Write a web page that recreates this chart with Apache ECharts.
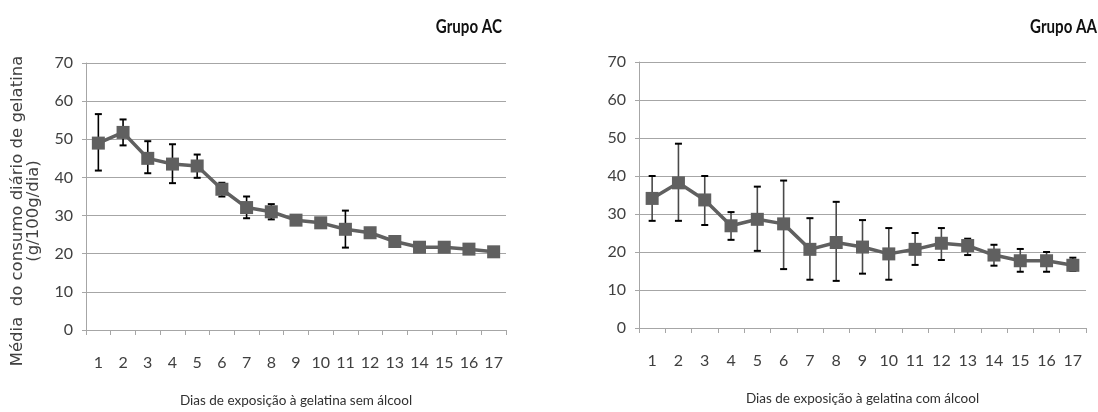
<!DOCTYPE html>
<html>
<head>
<meta charset="utf-8">
<script src="https://cdn.jsdelivr.net/npm/echarts@6/dist/echarts.min.js"></script>
<style>
html,body{margin:0;padding:0;background:#fff;}
#chart{width:1098px;height:412px;}
</style>
</head>
<body>
<div id="chart"></div>
<script>
const days = ['1','2','3','4','5','6','7','8','9','10','11','12','13','14','15','16','17'];
const yTicks = [0,10,20,30,40,50,60,70];

const acMean = [49, 51.8, 45, 43.5, 43, 36.9, 32.1, 31, 28.8, 28.1, 26.4, 25.5, 23.2, 21.7, 21.7, 21.2, 20.5];
const acLow  = [41.8, 48.4, 41.1, 38.5, 39.9, 35.0, 29.3, 29.0, 28.2, 27.5, 21.6, 24.9, 22.6, 21.1, 21.1, 20.6, 19.9];
const acHigh = [56.6, 55.2, 49.5, 48.7, 46.0, 38.6, 35.0, 33.0, 29.4, 28.7, 31.3, 26.1, 23.8, 22.3, 22.3, 21.8, 21.1];

const aaMean = [34.1, 38.2, 33.7, 26.9, 28.6, 27.4, 20.7, 22.5, 21.3, 19.5, 20.7, 22.3, 21.7, 19.2, 17.7, 17.7, 16.5];
const aaLow  = [28.2, 28.2, 27.1, 23.2, 20.3, 15.5, 12.7, 12.4, 14.3, 12.7, 16.6, 17.9, 19.2, 16.4, 14.8, 14.8, 15.0];
const aaHigh = [40.0, 48.5, 40.0, 30.5, 37.2, 38.8, 28.9, 33.2, 28.4, 26.3, 25.0, 26.3, 23.5, 21.9, 20.8, 20.0, 18.5];

const titles = ['Grupo AC', 'Grupo AA'];
const xNames = ['Dias de exposição à gelatina sem álcool', 'Dias de exposição à gelatina com álcool'];
const yName1 = 'Média  do consumo diário de gelatina';
const yName2 = '(g/100g/dia)';

const FONT = 'Lato, "Open Sans", sans-serif';
const GRIDC = '#a6a6a6';

function errData(lo, hi){ return days.map((d,i)=>[i, lo[i], hi[i]]); }

function errorRender(stemColor){
  return function(params, api){
    const x = api.value(0), lo = api.value(1), hi = api.value(2);
    const pH = api.coord([x, hi]);
    const pL = api.coord([x, lo]);
    const w = 3.5;
    return {type:'group', children:[
      {type:'line', shape:{x1:pH[0],y1:pH[1],x2:pL[0],y2:pL[1]}, style:{stroke:stemColor,lineWidth:1.6}},
      {type:'line', shape:{x1:pH[0]-w,y1:pH[1],x2:pH[0]+w,y2:pH[1]}, style:{stroke:'#000',lineWidth:2}},
      {type:'line', shape:{x1:pL[0]-w,y1:pL[1],x2:pL[0]+w,y2:pL[1]}, style:{stroke:'#000',lineWidth:2}}
    ]};
  };
}

function xAxis(gi){
  return {
    type:'category', gridIndex:gi, data:days, boundaryGap:true,
    axisLine:{lineStyle:{color:GRIDC,width:1}},
    axisTick:{show:true,length:5,interval:0,alignWithLabel:false,lineStyle:{color:GRIDC}},
    axisLabel:{interval:0,margin:25,fontSize:16,color:'#404040',fontFamily:FONT},
    name:xNames[gi], nameLocation:'middle', nameGap:64,
    nameTextStyle:{fontSize:13.5,color:'#303030',fontFamily:FONT}
  };
}
function yAxis(gi){
  return {
    type:'value', gridIndex:gi, min:0, max:70, interval:10,
    axisLine:{show:true,lineStyle:{color:GRIDC,width:1}},
    axisTick:{show:true,length:4,lineStyle:{color:GRIDC}},
    splitLine:{show:true,lineStyle:{color:GRIDC,width:1}},
    axisLabel:{margin:13,fontSize:16,color:'#404040',fontFamily:FONT,
      formatter:v=>yTicks.includes(v)?String(v):''}
  };
}

const chart = echarts.init(document.getElementById('chart'), null, {renderer:'canvas'});
chart.setOption({
  backgroundColor:'#fff',
  animation:false,
  grid:[
    {left:86, top:63, width:420, height:267, outerBoundsMode:'none', containLabel:false},
    {left:639, top:62, width:447, height:266, outerBoundsMode:'none', containLabel:false}
  ],
  xAxis:[xAxis(0), xAxis(1)],
  yAxis:[yAxis(0), yAxis(1)],
  graphic:[
    {type:'text', x:502, y:27, scaleX:0.84,
      style:{text:titles[0], font:'bold 18px '+FONT, fill:'#111', textAlign:'right', textVerticalAlign:'middle'}},
    {type:'text', x:1097, y:27, scaleX:0.84,
      style:{text:titles[1], font:'bold 18px '+FONT, fill:'#111', textAlign:'right', textVerticalAlign:'middle'}},
    {type:'text', x:18, y:211, rotation:Math.PI/2,
      style:{text:yName1, font:'16.5px "DejaVu Sans", Verdana, sans-serif', fill:'#404040', textAlign:'center', textVerticalAlign:'middle'}},
    {type:'text', x:34, y:211, rotation:Math.PI/2,
      style:{text:yName2, font:'16.5px "DejaVu Sans", Verdana, sans-serif', fill:'#404040', textAlign:'center', textVerticalAlign:'middle'}}
  ],
  series:[
    {type:'custom', xAxisIndex:0, yAxisIndex:0, data:errData(acLow, acHigh), renderItem:errorRender('#000'), z:1},
    {type:'line', xAxisIndex:0, yAxisIndex:0, data:acMean, symbol:'rect', symbolSize:13,
      lineStyle:{color:'#606060',width:3.5}, itemStyle:{color:'#606060'}, z:3},
    {type:'custom', xAxisIndex:1, yAxisIndex:1, data:errData(aaLow, aaHigh), renderItem:errorRender('#4a4a4a'), z:1},
    {type:'line', xAxisIndex:1, yAxisIndex:1, data:aaMean, symbol:'rect', symbolSize:13,
      lineStyle:{color:'#606060',width:3.5}, itemStyle:{color:'#606060'}, z:3}
  ]
});
</script>
</body>
</html>
